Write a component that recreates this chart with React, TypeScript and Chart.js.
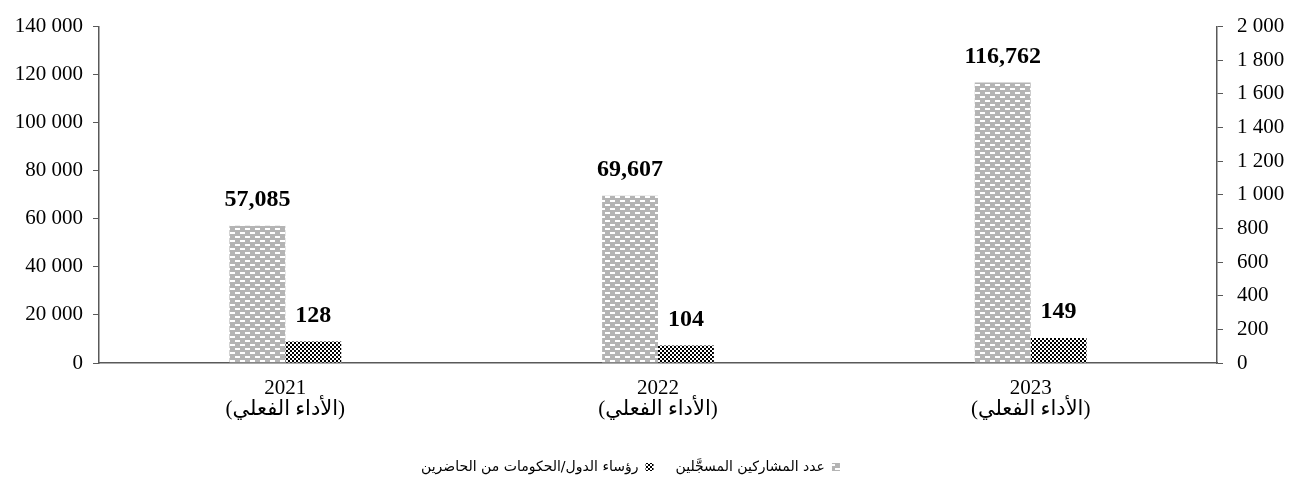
import React, { useEffect, useRef } from 'react';
import { Chart, registerables } from 'chart.js';

Chart.register(...registerables);

const years = ['2021', '2022', '2023'];
const subLabel = '(الأداء الفعلي)';
const registered = [57085, 69607, 116762];
const heads = [128, 104, 149];
const seriesNames = ['عدد المشاركين المسجَّلين', 'رؤساء الدول/الحكومات من الحاضرين'];
const leftTicks = [0, 20000, 40000, 60000, 80000, 100000, 120000, 140000];
const rightTicks = [0, 200, 400, 600, 800, 1000, 1200, 1400, 1600, 1800, 2000];

const fmtSpace = (v: number) => String(v).replace(/\B(?=(\d{3})+(?!\d))/g, ' ');
const fmtComma = (v: number) => String(v).replace(/\B(?=(\d{3})+(?!\d))/g, ',');

function brickPattern(ctx: CanvasRenderingContext2D) {
  const c = document.createElement('canvas');
  c.width = 10;
  c.height = 8;
  const g = c.getContext('2d')!;
  g.fillStyle = '#b4b4b4';
  g.fillRect(0, 0, 10, 8);
  g.fillStyle = '#ffffff';
  g.fillRect(0, 0, 5, 2);
  g.fillRect(5, 4, 5, 2);
  return ctx.createPattern(c, 'repeat')!;
}

function checkerPattern(ctx: CanvasRenderingContext2D) {
  const c = document.createElement('canvas');
  c.width = 4;
  c.height = 4;
  const g = c.getContext('2d')!;
  g.fillStyle = '#ffffff';
  g.fillRect(0, 0, 4, 4);
  g.fillStyle = '#000000';
  g.fillRect(0, 0, 2, 2);
  g.fillRect(2, 2, 2, 2);
  return ctx.createPattern(c, 'repeat')!;
}

const forceLtr = {
  id: 'forceLtr',
  beforeDraw(chart: any) {
    (chart.ctx as any).direction = 'ltr';
    const lg = chart.legend;
    if (lg) {
      lg.left -= 18;
      lg.right -= 18;
    }
  },
};

const valueLabels = {
  id: 'valueLabels',
  afterDatasetsDraw(chart: any) {
    const ctx = chart.ctx as CanvasRenderingContext2D;
    ctx.save();
    (ctx as any).direction = 'ltr';
    ctx.font = 'bold 24px "Liberation Serif", "DejaVu Serif", serif';
    ctx.fillStyle = '#000';
    ctx.textBaseline = 'middle';
    ctx.textAlign = 'center';
    chart.data.datasets.forEach((ds: any, di: number) => {
      const meta = chart.getDatasetMeta(di);
      meta.data.forEach((bar: any, i: number) => {
        const txt = fmtComma(ds.data[i] as number);
        ctx.fillText(txt, bar.x, bar.y - 26);
      });
    });
    ctx.restore();
  },
};

export default function App() {
  const ref = useRef<HTMLCanvasElement>(null);

  useEffect(() => {
    const canvas = ref.current!;
    const ctx = canvas.getContext('2d')!;
    const tickFont = { family: '"Liberation Serif", "DejaVu Serif", serif', size: 21 };
    const axisColor = '#595959';
    const chart = new Chart(canvas, {
      type: 'bar',
      data: {
        labels: years.map((y) => [y, subLabel]),
        datasets: [
          {
            label: seriesNames[0],
            data: registered,
            yAxisID: 'y',
            backgroundColor: brickPattern(ctx),
            borderWidth: 0,
            categoryPercentage: 0.3,
            barPercentage: 1,
          },
          {
            label: seriesNames[1],
            data: heads,
            yAxisID: 'y1',
            backgroundColor: checkerPattern(ctx),
            borderWidth: 0,
            categoryPercentage: 0.3,
            barPercentage: 1,
          },
        ],
      },
      options: {
        animation: false,
        responsive: false,
        layout: { padding: { top: 18, bottom: 5, left: 0, right: 0 } },
        plugins: {
          tooltip: { enabled: false },
          legend: {
            position: 'bottom',
            rtl: true,
            textDirection: 'rtl',
            labels: {
              boxWidth: 8,
              boxHeight: 8,
              padding: 22,
              color: '#000',
              font: { family: '"DejaVu Sans", sans-serif', size: 14 },
            },
          },
        },
        scales: {
          x: {
            grid: { display: false, drawTicks: false },
            border: { display: true, color: axisColor, width: 1.5 },
            ticks: {
              color: '#000',
              padding: 15,
              font: { family: '"Liberation Serif", "DejaVu Sans", serif', size: 21, lineHeight: 1.0 },
              maxRotation: 0,
            },
            afterFit(s: any) {
              s.height = 75;
            },
          },
          y: {
            position: 'left',
            min: 0,
            max: 140000,
            afterBuildTicks(s: any) {
              s.ticks = leftTicks.map((v) => ({ value: v }));
            },
            grid: { drawOnChartArea: false, drawTicks: true, tickLength: 6, color: axisColor },
            border: { color: axisColor, width: 1.5 },
            ticks: { color: '#000', padding: 10, font: tickFont, callback: (v: any) => fmtSpace(Number(v)) },
            afterFit(s: any) {
              s.width = 99;
            },
          },
          y1: {
            position: 'right',
            min: 0,
            max: 2000,
            afterBuildTicks(s: any) {
              s.ticks = rightTicks.map((v) => ({ value: v }));
            },
            grid: { drawOnChartArea: false, drawTicks: true, tickLength: 6, color: axisColor },
            border: { color: axisColor, width: 1.5 },
            ticks: { color: '#000', padding: 14, font: tickFont, callback: (v: any) => fmtSpace(Number(v)) },
            afterFit(s: any) {
              s.width = 80;
            },
          },
        },
      } as any,
      plugins: [forceLtr, valueLabels],
    });
    return () => chart.destroy();
  }, []);

  return (
    <div style={{ position: 'fixed', left: 0, top: 0, width: 1297, height: 489, background: '#fff' }}>
      <canvas ref={ref} width={1297} height={489} style={{ display: 'block', direction: 'ltr' }} />
    </div>
  );
}
